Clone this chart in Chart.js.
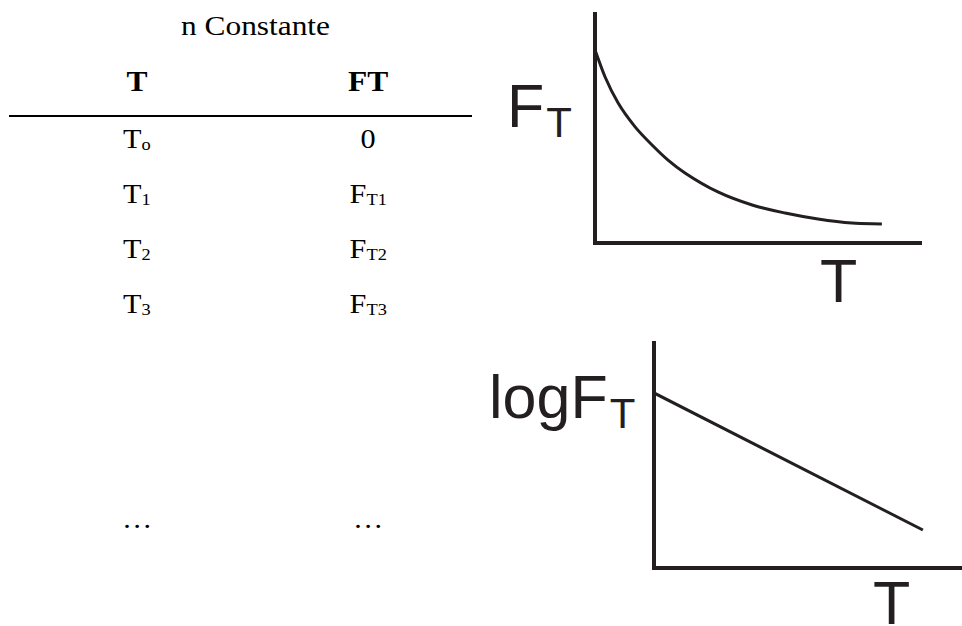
<!DOCTYPE html>
<html>
<head>
<meta charset="utf-8">
<script src="https://cdn.jsdelivr.net/npm/chart.js@4"></script>
<style>
  body { margin: 0; background: #fff; overflow: hidden; width: 962px; height: 626px; position: relative; }
  .t { position: absolute; white-space: nowrap; line-height: 1; }
  .serif { font-family: "Liberation Serif", "Times New Roman", serif; color: #000; }
  .sans { font-family: "Liberation Sans", Arial, sans-serif; color: #231f20; }
  canvas { position: absolute; }
</style>
</head>
<body>
<canvas id="top" width="334" height="237" style="left:591px;top:10px"></canvas>
<canvas id="bottom" width="312" height="233" style="left:650px;top:339px"></canvas>
<div id="line" style="position:absolute;left:9px;top:115px;width:463px;height:1.5px;background:#000"></div>
<script>
// table
const title = 'n Constante';
const headers = ['T', 'FT'];
const colT = ['T<sub>o</sub>', 'T<sub>1</sub>', 'T<sub>2</sub>', 'T<sub>3</sub>', '…'];
const colFT = ['0', 'F<sub>T1</sub>', 'F<sub>T2</sub>', 'F<sub>T3</sub>', '…'];
const rowBaselines = [148, 203, 258, 313, 528];

// curves (axis units 0..100)
const topX = [0, 3.1, 7.1, 12.3, 17.5, 22.4, 27.6, 37.7, 48.2, 58.3, 68.4, 78.8, 88.0];
const topY = [84.3, 72.5, 61.1, 50.7, 42.8, 36.2, 30.6, 22.3, 16.6, 13.1, 10.5, 8.7, 8.3];
const bottomX = [0, 87.3];
const bottomY = [77.8, 16.9];

const ink = '#231f20';

function place(html, cx, baseline, size, weight, stretch) {
  const d = document.createElement('div');
  d.className = 't serif';
  d.style.fontSize = size + 'px';
  d.style.fontWeight = weight || 'normal';
  d.innerHTML = html;
  d.querySelectorAll('sub').forEach(s => {
    s.style.fontSize = Math.round(size * 0.61) + 'px';
    s.style.verticalAlign = 'baseline';
    s.style.position = 'relative';
    s.style.top = '2px';
  });
  document.body.appendChild(d);
  d.style.top = (baseline - 0.8375 * size) + 'px';
  const w = d.getBoundingClientRect().width;
  d.style.left = (cx - w / 2) + 'px';
  d.style.transform = 'scaleX(' + stretch + ')';
  d.style.transformOrigin = 'center';
  return d;
}

place(title, 255, 35, 28, 'normal', 1.12);
place(headers[0], 137, 91, 30, 'bold', 1.05);
place(headers[1], 368, 91, 30, 'bold', 1.05);
colT.forEach((s, i) => place(s, 137, rowBaselines[i], 28, 'normal', 1.08));
colFT.forEach((s, i) => place(s, 368, rowBaselines[i], 28, 'normal', 1.08));

// axis labels
function sansLabel(main, sub, left, baseline) {
  const d = document.createElement('div');
  d.className = 't sans';
  d.style.fontSize = '61px';
  d.innerHTML = main + (sub ? '<span style="font-size:42px;position:relative;top:10px;margin-left:2px">' + sub + '</span>' : '');
  d.style.left = left + 'px';
  d.style.top = (baseline - 0.8465 * 61) + 'px';
  document.body.appendChild(d);
}
sansLabel('F', 'T', 507, 128);
sansLabel('T', '', 820, 303);
sansLabel('logF', 'T', 489, 419);
sansLabel('T', '', 873, 625);

function sketch(id, xs, ys, pad) {
  new Chart(document.getElementById(id), {
    type: 'line',
    data: {
      datasets: [{
        data: xs.map((x, i) => ({ x, y: ys[i] })),
        borderColor: ink,
        borderWidth: 3,
        pointRadius: 0,
        fill: false,
        cubicInterpolationMode: 'monotone'
      }]
    },
    options: {
      responsive: false,
      animation: false,
      layout: { padding: pad },
      plugins: { legend: { display: false }, tooltip: { enabled: false } },
      scales: {
        x: {
          type: 'linear', min: 0, max: 100,
          grid: { display: false, drawTicks: false },
          ticks: { display: false },
          border: { display: true, color: ink, width: 4 }
        },
        y: {
          min: 0, max: 100,
          grid: { display: false, drawTicks: false },
          ticks: { display: false },
          border: { display: true, color: ink, width: 4 }
        }
      }
    }
  });
}

sketch('top', topX, topY, { left: 4, top: 4, bottom: 4, right: 4 });
sketch('bottom', bottomX, bottomY, { left: 4, top: 4, bottom: 4, right: 0 });
</script>
</body>
</html>
